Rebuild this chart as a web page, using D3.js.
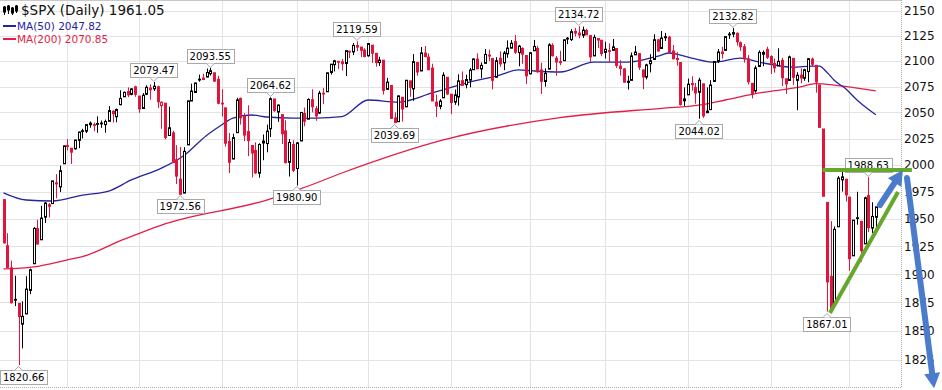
<!DOCTYPE html>
<html>
<head>
<meta charset="utf-8">
<script src="https://cdn.jsdelivr.net/npm/d3@7"></script>
<style>
  body { margin: 0; background: #fff; }
  svg { display: block; font-family: "DejaVu Sans", Verdana, sans-serif; }
</style>
</head>
<body>
<svg id="chart" width="942" height="390"></svg>
<script>
// daily candles [open, high, low, close], one list per month
const oct14 = [
  [1967.7,1967.7,1927.6,1928.2],[1925.6,1937.0,1906.1,1906.1],[1905.7,1912.1,1874.1,1874.7],
  [1877.1,1898.7,1871.8,1877.7],[1874.2,1874.2,1820.7,1862.5],[1856.0,1876.0,1835.0,1862.8],
  [1864.9,1898.2,1864.9,1886.8],[1885.6,1905.0,1882.3,1904.0],[1909.4,1942.5,1909.4,1941.3],
  [1941.3,1949.3,1926.8,1927.1],[1931.0,1962.0,1931.0,1950.8],[1951.6,1965.3,1946.3,1964.6],
  [1963.0,1964.6,1951.4,1961.6],[1964.1,1985.1,1964.1,1985.1],[1983.3,1991.4,1969.0,1982.3],
  [1979.5,1999.4,1974.8,1994.7],[2001.2,2018.2,2001.2,2018.1]
];
const nov14 = [
  [2018.2,2024.5,2013.7,2017.8],[2015.8,2016.0,2001.0,2012.1],[2015.3,2023.8,2014.4,2023.6],
  [2023.3,2031.6,2015.9,2031.2],[2032.4,2034.3,2025.1,2031.9],[2032.0,2038.7,2030.2,2038.3],
  [2038.2,2041.3,2035.3,2039.7],[2037.8,2040.3,2032.0,2038.3],[2039.2,2046.2,2030.4,2039.3],
  [2039.7,2042.2,2035.2,2039.8],[2038.3,2043.1,2030.5,2041.3],[2041.5,2056.1,2041.5,2051.8],
  [2051.2,2052.1,2040.4,2048.7],[2045.9,2053.8,2040.5,2052.8],[2057.5,2071.5,2056.8,2063.5],
  [2065.1,2070.2,2065.1,2069.4],[2070.2,2074.2,2064.8,2067.0],[2067.4,2073.3,2066.6,2072.8],
  [2074.8,2075.8,2065.1,2067.6]
];
const dec14 = [
  [2065.8,2065.8,2049.6,2053.4],[2053.8,2068.8,2053.8,2066.6],[2067.5,2076.3,2066.7,2074.3],
  [2073.6,2077.3,2062.3,2071.9],[2072.8,2079.5,2070.8,2075.4],[2074.8,2075.8,2054.3,2060.3],
  [2056.6,2060.6,2034.2,2059.8],[2058.9,2058.9,2024.3,2026.1],[2027.9,2055.5,2027.9,2035.3],
  [2030.4,2032.3,2002.3,2002.3],[2005.0,2018.7,1982.3,1989.6],[1986.7,2016.9,1972.6,1972.7],
  [1973.8,2016.8,1973.8,2012.9],[2019.0,2061.2,2019.0,2061.2],[2061.0,2077.9,2061.0,2070.7],
  [2069.3,2078.8,2069.3,2078.5],[2081.5,2086.7,2079.8,2082.2],[2083.3,2087.6,2081.9,2081.9],
  [2084.3,2092.7,2084.3,2088.8],[2087.6,2093.6,2085.8,2090.6],[2088.5,2088.5,2079.5,2080.4],
  [2082.1,2085.6,2057.9,2058.9]
];
const jan15 = [
  [2058.9,2072.4,2046.0,2058.2],[2054.4,2054.4,2017.3,2020.6],[2022.2,2030.3,1992.4,2002.6],
  [2005.6,2029.6,2005.6,2025.9],[2030.6,2064.1,2030.6,2062.1],[2063.5,2064.4,2038.3,2044.8],
  [2046.1,2049.3,2022.6,2028.3],[2031.6,2056.9,2008.3,2023.0],[2018.4,2018.4,1988.4,2011.3],
  [2013.8,2021.4,1991.5,1992.7],[1992.3,2020.5,1988.1,2019.4],[2020.8,2028.9,2004.5,2022.6],
  [2020.2,2038.3,2012.0,2032.1],[2034.3,2064.6,2026.4,2063.2],[2063.0,2063.0,2050.5,2051.8],
  [2050.4,2057.6,2041.0,2057.1],[2047.9,2047.9,2019.9,2029.6],[2032.3,2042.5,2001.5,2002.2],
  [2002.5,2024.6,1989.2,2021.3],[2019.4,2023.3,1993.4,1995.0]
];
const feb15 = [
  [1996.7,2021.7,1980.9,2020.9],[2022.7,2050.3,2022.7,2050.0],[2048.9,2054.7,2036.7,2041.5],
  [2043.5,2063.6,2043.5,2062.5],[2062.3,2072.4,2050.0,2055.5],[2053.5,2056.2,2041.9,2046.7],
  [2049.4,2070.9,2048.6,2068.6],[2068.6,2073.5,2058.0,2068.5],[2070.0,2088.5,2070.0,2088.5],
  [2088.8,2097.0,2086.7,2097.0],[2096.5,2101.3,2089.8,2100.3],[2099.2,2100.2,2092.2,2099.7],
  [2099.3,2102.1,2090.8,2097.5],[2097.7,2110.6,2085.4,2110.3],[2109.8,2110.1,2103.0,2109.7],
  [2109.1,2117.9,2105.9,2115.5],[2115.3,2119.6,2109.9,2113.9],[2113.9,2113.9,2103.8,2110.7],
  [2110.9,2112.7,2103.8,2104.5]
];
const mar15 = [
  [2105.2,2117.5,2104.5,2117.4],[2115.8,2115.8,2098.3,2107.8],[2107.7,2107.7,2094.5,2098.5],
  [2098.5,2104.3,2095.2,2101.0],[2100.9,2100.9,2067.3,2071.3],[2072.3,2083.5,2072.2,2079.4],
  [2076.1,2076.1,2044.2,2044.2],[2044.7,2050.1,2039.7,2040.2],[2041.1,2066.4,2041.1,2066.0],
  [2064.6,2064.6,2041.2,2053.4],[2055.4,2081.4,2055.4,2081.2],[2080.6,2080.6,2065.1,2074.3],
  [2072.8,2106.9,2061.2,2099.5],[2098.7,2098.7,2085.6,2089.3],[2090.3,2113.9,2090.3,2108.1],
  [2108.0,2114.9,2104.4,2104.4],[2103.9,2107.6,2091.5,2091.5],[2093.1,2097.4,2061.1,2061.1],
  [2059.9,2067.2,2045.5,2056.2],[2055.8,2062.8,2053.0,2061.0],[2064.1,2089.0,2064.1,2086.2],
  [2084.1,2084.1,2067.0,2067.9]
];
const apr15 = [
  [2067.6,2067.6,2048.4,2059.7],[2060.0,2072.2,2057.3,2067.0],[2064.9,2087.0,2056.5,2080.6],
  [2080.8,2089.8,2076.1,2076.3],[2076.9,2086.7,2073.3,2081.9],[2081.3,2093.3,2074.3,2091.2],
  [2091.5,2102.6,2091.5,2102.1],[2102.0,2107.7,2092.3,2092.4],[2092.3,2098.6,2083.2,2095.8],
  [2097.8,2111.9,2097.8,2106.6],[2106.0,2111.3,2100.0,2105.0],[2102.6,2102.6,2072.4,2081.2],
  [2084.1,2103.9,2084.1,2100.4],[2102.8,2109.6,2094.4,2097.3],[2098.3,2110.0,2091.1,2108.0],
  [2107.2,2120.5,2103.2,2112.9],[2112.8,2120.9,2112.8,2117.7],[2119.3,2125.9,2107.0,2108.9],
  [2108.4,2116.0,2094.9,2114.8],[2112.5,2113.7,2097.4,2106.9],[2105.5,2105.5,2077.6,2085.5]
];
const may15 = [
  [2087.4,2108.4,2087.4,2108.3],[2110.2,2121.0,2110.2,2114.5],[2112.6,2115.2,2088.5,2089.5],
  [2091.3,2098.4,2067.9,2080.2],[2080.0,2092.9,2075.0,2088.0],[2092.1,2117.7,2092.1,2116.1],
  [2115.6,2117.7,2104.6,2105.3],[2102.9,2105.1,2085.6,2099.1],[2099.6,2110.2,2096.0,2098.5],
  [2100.4,2121.5,2100.4,2121.1],[2122.1,2123.9,2116.8,2122.7],[2121.3,2131.8,2120.0,2129.2],
  [2129.5,2133.0,2124.5,2127.8],[2127.8,2134.7,2122.6,2125.9],[2125.6,2134.3,2123.0,2130.8],
  [2130.4,2132.2,2126.1,2126.1],[2125.3,2125.3,2099.2,2104.2],[2105.1,2126.2,2105.1,2123.5],
  [2122.3,2122.3,2112.9,2120.8],[2120.7,2120.7,2104.9,2107.4]
];
const jun15 = [
  [2108.6,2119.2,2102.5,2111.7],[2110.4,2117.6,2099.1,2109.6],[2110.6,2121.9,2110.6,2114.1],
  [2112.4,2112.9,2093.2,2095.8],[2095.1,2101.0,2085.7,2092.8],[2092.3,2093.0,2079.1,2079.3],
  [2079.1,2085.6,2072.1,2080.2],[2081.1,2108.5,2081.1,2105.2],[2106.2,2115.0,2106.2,2108.9],
  [2107.4,2107.4,2091.3,2094.1],[2091.3,2091.3,2072.5,2084.4],[2084.3,2097.4,2082.1,2096.3],
  [2097.4,2106.8,2088.9,2100.4],[2101.6,2126.7,2101.6,2121.2],[2121.1,2121.6,2109.5,2110.0],
  [2112.5,2129.9,2112.5,2122.9],[2123.2,2128.0,2119.9,2124.2],[2123.7,2125.1,2108.6,2108.6],
  [2110.0,2116.0,2101.8,2102.3],[2102.6,2108.9,2095.4,2101.5],[2098.6,2098.6,2056.6,2057.6],
  [2061.2,2074.3,2056.3,2063.1]
];
const jul15 = [
  [2067.0,2082.8,2067.0,2077.4],[2078.0,2085.1,2071.0,2076.8],[2074.0,2078.6,2058.4,2068.8],
  [2069.5,2083.7,2044.0,2081.3],[2077.7,2077.7,2044.7,2046.7],[2049.7,2074.3,2049.7,2051.3],
  [2052.7,2081.3,2052.7,2076.6],[2080.0,2099.9,2080.0,2099.6],[2099.7,2112.0,2098.2,2109.0],
  [2109.0,2114.1,2102.5,2107.4],[2110.6,2124.4,2110.6,2124.3],[2126.8,2128.9,2122.0,2126.6],
  [2126.9,2132.8,2123.7,2128.3],[2127.6,2128.5,2115.4,2119.2],[2118.2,2119.4,2110.1,2114.2],
  [2114.2,2116.9,2098.6,2102.2],[2102.2,2106.0,2077.1,2079.7],[2078.2,2078.2,2063.5,2067.6],
  [2070.8,2095.6,2069.1,2093.3],[2094.7,2110.6,2094.1,2108.6],[2106.8,2110.5,2095.0,2108.6],
  [2111.6,2114.2,2102.1,2103.8]
];
const aug15 = [
  [2104.5,2105.7,2087.3,2098.0],[2097.7,2102.5,2088.6,2093.3],[2095.3,2112.7,2095.3,2099.8],
  [2100.8,2103.3,2075.5,2083.6],[2082.6,2082.6,2067.9,2077.6],[2081.0,2105.4,2081.0,2104.2],
  [2102.7,2102.7,2076.5,2084.1],[2081.1,2089.1,2052.1,2086.1],[2086.2,2092.9,2078.3,2083.4],
  [2083.2,2092.5,2080.6,2091.5],[2089.7,2102.9,2079.3,2102.4],[2102.0,2103.5,2094.1,2096.9],
  [2095.7,2095.7,2069.1,2079.6],[2076.6,2076.6,2035.7,2035.7],[2034.1,2034.1,1970.9,1970.9],
  [1965.2,1965.2,1867.0,1893.2],[1898.1,1948.0,1867.1,1867.6],[1872.8,1943.1,1872.8,1940.5],
  [1942.8,1989.6,1942.8,1987.7],[1986.1,1993.5,1975.2,1988.9],[1986.7,1986.7,1966.0,1972.2]
];
const sep15 = [
  [1970.1,1970.1,1903.1,1913.9],[1916.5,1948.9,1916.5,1948.9],[1950.8,1975.0,1944.7,1951.1],
  [1947.8,1947.8,1911.2,1921.2],[1927.3,1970.4,1927.3,1969.4],[1971.5,1988.6,1937.9,1942.0],
  [1941.6,1965.3,1937.2,1952.3],[1951.5,1961.1,1939.2,1961.1]
];
const prevClose = 1968.9;

// moving averages: [day index, value]
const ma50 = [
  [0,1974],[6,1967.4],[13,1966.5],[21,1972],[28,1975.7],[34,1986],[42,1997],[48,2009],
  [54,2028],[58,2038],[61,2044.6],[66,2047.5],[70,2045.6],[77,2044.6],[83,2044.6],[90,2046],
  [97,2062],[105,2060],[114,2068.8],[123,2078.5],[132,2086.3],[137,2091.3],[141,2090.3],
  [148,2089.3],[157,2099],[166,2099],[175,2106],[177,2108],[183,2103],[189,2099],[196,2103],
  [201,2099],[210,2094],[215,2095],[217,2095],[219,2089],[221,2081],[224,2073],[227,2062],
  [230,2053],[232,2047.82]
];
const ma200 = [
  [0,1904.7],[8,1906.5],[17,1912.8],[21,1915.8],[31,1930],[42,1944.4],[70,1967.4],[79,1977.7],
  [90,1992.5],[117,2023.7],[148,2045],[175,2054],[185,2057],[192,2062],[201,2068.8],
  [212,2074.7],[216,2078],[222,2076],[232,2070.85]
];

const yTicks = [1825,1850,1875,1900,1925,1950,1975,2000,2025,2050,2075,2100,2125,2150];

const peaks = [
  {i:4, v:1820.66, side:"low"}, {i:40, v:2079.47, side:"high"}, {i:47, v:1972.56, side:"low"},
  {i:55, v:2093.55, side:"high"}, {i:71, v:2064.62, side:"high"}, {i:78, v:1980.90, side:"low"},
  {i:94, v:2119.59, side:"high"}, {i:104, v:2039.69, side:"low"}, {i:153, v:2134.72, side:"high"},
  {i:185, v:2044.02, side:"low"}, {i:194, v:2132.82, side:"high"}, {i:219, v:1867.01, side:"low"},
  {i:230, v:1988.63, side:"high"}
];

// hand drawn notes, in [day index, price]
const resistance = [[217.9,1995.3],[241.6,1995.3]];
const support = [[219.8,1865.7],[237.9,1974.8]];
const upArrow = [[233.1,1962.8],[239.2,1995.3]];
const downArrow = [[240.3,1987.8],[247.5,1801]];

const legend = [
  {text:"MA(50) 2047.82", color:"#2424a0"},
  {text:"MA(200) 2070.85", color:"#e41e46"}
];

const RED = "#e2143c";
const plotRight = 901, plotBottom = 387;

const svg = d3.select("#chart");
const months = [oct14, nov14, dec14, jan15, feb15, mar15, apr15, may15, jun15, jul15, aug15, sep15];
const data = months.flat().map((d, i) => ({i, o:d[0], h:d[1], l:d[2], c:d[3]}));
const monthStarts = [];
let acc = 0;
months.forEach(m => { monthStarts.push(acc); acc += m.length; });
monthStarts.shift();

const x = d3.scaleLinear().domain([0, data.length - 1]).range([3.5, 875.8]);
const y = d3.scaleLog().domain([1825, 2150]).range([360, 11]);
const px = v => Math.round(v) + 0.5;

svg.append("clipPath").attr("id", "plot")
  .append("rect").attr("x", 0).attr("y", 0).attr("width", plotRight).attr("height", plotBottom);

// grid
const grid = svg.append("g").attr("stroke", "#e3e3e3").attr("stroke-width", 1);
grid.selectAll(".h").data(yTicks).join("line")
  .attr("x1", 0).attr("x2", plotRight)
  .attr("y1", d => px(y(d))).attr("y2", d => px(y(d)));
grid.selectAll(".v").data(monthStarts).join("line")
  .attr("x1", d => px(x(d))).attr("x2", d => px(x(d)))
  .attr("y1", 1).attr("y2", plotBottom);

svg.append("line").attr("x1", 0).attr("x2", plotRight).attr("y1", 0.5).attr("y2", 0.5)
  .attr("stroke", "#c8c8c8");
svg.append("line").attr("x1", 0).attr("x2", plotRight).attr("y1", plotBottom + 0.5).attr("y2", plotBottom + 0.5)
  .attr("stroke", "#b0b0b0").attr("stroke-dasharray", "1,1");
svg.append("line").attr("x1", plotRight + 0.5).attr("x2", plotRight + 0.5).attr("y1", 0).attr("y2", plotBottom)
  .attr("stroke", "#b0b0b0").attr("stroke-dasharray", "1,1");

// axis
const axis = svg.append("g").attr("transform", `translate(${plotRight},0)`)
  .call(d3.axisRight(y).tickValues(yTicks).tickFormat(d3.format("d")).tickSize(0).tickPadding(3));
axis.select(".domain").remove();
axis.selectAll("text").attr("font-size", 12).attr("fill", "#111")
  .attr("font-family", "'DejaVu Sans', Verdana, sans-serif");

// moving averages
const maLine = d3.line().x(d => x(d[0])).y(d => y(d[1])).curve(d3.curveMonotoneX);
const plot = svg.append("g").attr("clip-path", "url(#plot)");
plot.append("path").datum(ma200).attr("d", maLine).attr("fill", "none")
  .attr("stroke", legend[1].color).attr("stroke-width", 1.3);
plot.append("path").datum(ma50).attr("d", maLine).attr("fill", "none")
  .attr("stroke", legend[0].color).attr("stroke-width", 1.3);

// candles
const candle = plot.selectAll(".candle").data(data).join("g").attr("class", "candle")
  .each(function(d) {
    const prev = d.i === 0 ? prevClose : data[d.i - 1].c;
    const col = d.c < prev ? RED : "#000";
    const cx = Math.round(x(d.i));
    const g = d3.select(this);
    const top = y(Math.max(d.o, d.c)), bot = y(Math.min(d.o, d.c));
    g.append("line").attr("x1", cx + 0.5).attr("x2", cx + 0.5)
      .attr("y1", y(d.h)).attr("y2", y(d.l)).attr("stroke", col);
    g.append("rect").attr("x", cx - 0.5).attr("width", 2)
      .attr("y", top).attr("height", Math.max(bot - top, 0.8))
      .attr("fill", d.c >= d.o ? "#fff" : col).attr("stroke", col).attr("stroke-width", 1);
  });

// high / low tags
const tags = svg.append("g").attr("font-size", 10).attr("fill", "#000");
peaks.forEach(p => {
  const cx = x(p.i), py = y(p.v);
  const g = tags.append("g");
  const t = g.append("text").text(p.v.toFixed(2)).attr("text-anchor", "middle");
  const w = t.node().getComputedTextLength() + 6, h = 14;
  let left = Math.max(0, cx - w / 2);
  const boxTop = p.side === "high" ? py - 5 - h : py + 5;
  const edge = p.side === "high" ? boxTop + h : boxTop;
  const dir = p.side === "high" ? 1 : -1;
  g.insert("rect", "text").attr("x", Math.round(left) + 0.5).attr("y", Math.round(boxTop) + 0.5)
    .attr("width", Math.round(w)).attr("height", h).attr("fill", "#fff").attr("stroke", "#a8a8a8");
  g.insert("path", "text")
    .attr("d", `M${cx - 4},${Math.round(edge) + 0.5}L${cx},${Math.round(edge) + 0.5 + 4 * dir}L${cx + 4},${Math.round(edge) + 0.5}`)
    .attr("fill", "#fff").attr("stroke", "#a8a8a8");
  t.attr("x", left + w / 2).attr("y", Math.round(boxTop) + 11);
});

// title and legend
const head = svg.append("g");
const icon = head.append("g").attr("stroke", "#000").attr("fill", "#000");
[[4.5,6,15,7,12],[8.5,5,14,6,10],[12.5,7,15,8,13],[16.5,5,13,6,11]].forEach(c => {
  icon.append("line").attr("x1", c[0]).attr("x2", c[0]).attr("y1", c[1]).attr("y2", c[2]);
  icon.append("rect").attr("x", c[0] - 1).attr("y", c[3]).attr("width", 2).attr("height", c[4] - c[3]);
});
head.append("text").attr("x", 21).attr("y", 15).attr("font-size", 13.5).attr("fill", "#111")
  .text("$SPX (Daily) 1961.05");
legend.forEach((l, k) => {
  const ly = 26 + k * 13;
  head.append("line").attr("x1", 3).attr("x2", 16).attr("y1", ly).attr("y2", ly)
    .attr("stroke", l.color).attr("stroke-width", 2);
  head.append("text").attr("x", 17).attr("y", ly + 4).attr("font-size", 10.5).attr("fill", l.color).text(l.text);
});

// green trend lines
const notes = svg.append("g");
const pt = d => [x(d[0]), y(d[1])];
[resistance, support].forEach(seg => {
  notes.append("path").attr("d", d3.line()(seg.map(pt)))
    .attr("stroke", "#66a82c").attr("stroke-width", 4).attr("fill", "none");
});

// blue arrows
function arrow(seg) {
  const [a, b] = seg.map(pt);
  const dx = b[0] - a[0], dy = b[1] - a[1], len = Math.hypot(dx, dy);
  const ux = dx / len, uy = dy / len, nx = -uy, ny = ux;
  const hl = 15, hw = 8;
  const base = [b[0] - ux * hl, b[1] - uy * hl];
  notes.append("line").attr("x1", a[0]).attr("y1", a[1]).attr("x2", base[0]).attr("y2", base[1])
    .attr("stroke", "#4a7ccb").attr("stroke-width", 6).attr("stroke-linecap", "round");
  notes.append("path")
    .attr("d", `M${b[0]},${b[1]}L${base[0] + nx * hw},${base[1] + ny * hw}L${base[0] - nx * hw},${base[1] - ny * hw}Z`)
    .attr("fill", "#4a7ccb");
}
arrow(upArrow);
arrow(downArrow);
</script>
</body>
</html>
